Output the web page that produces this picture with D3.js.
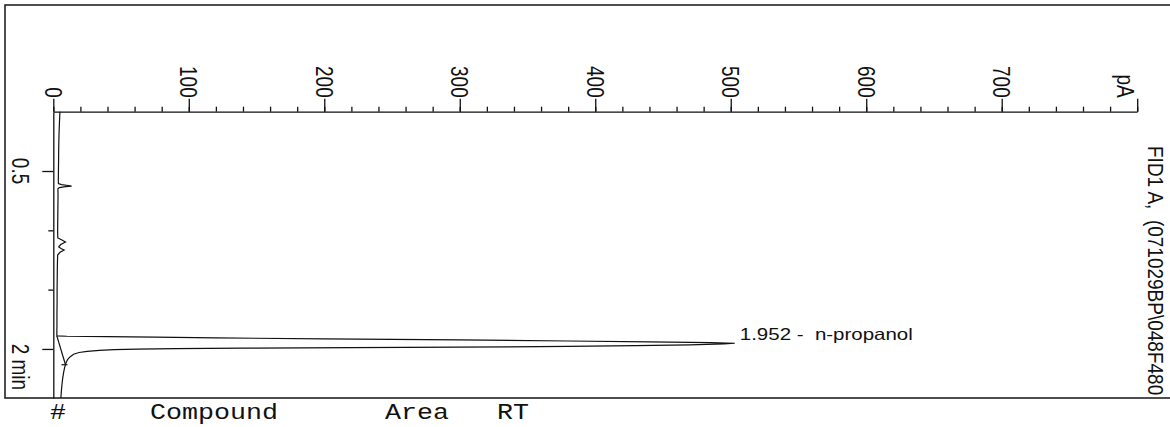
<!DOCTYPE html>
<html>
<head>
<meta charset="utf-8">
<script src="https://cdn.jsdelivr.net/npm/d3@7"></script>
<style>
  body { margin: 0; background: #fff; }
  svg { display: block; }
  .frame { fill: none; stroke: #222; stroke-width: 1.6; }
  .axis path, .axis line { stroke: #111; stroke-width: 1.3; }
  .trace { fill: none; stroke: #111; stroke-width: 1.2; }
  .lbl { font-family: "Liberation Sans", Arial, sans-serif; fill: #111; }
  .mono { font-family: "Liberation Mono", "Courier New", monospace; fill: #111; }
</style>
</head>
<body>
<div id="chart"></div>
<script>
var width = 1170;
var height = 427;

// FID trace: retention time (min) and signal (pA)
var timeMin = [
  0.000, 0.100, 0.200, 0.300, 0.400, 0.500, 0.580, 0.605, 0.615, 0.622,
  0.627, 0.632, 0.640, 0.650, 0.700, 0.800, 0.900, 1.000, 1.064, 1.080,
  1.098, 1.120, 1.140, 1.155, 1.166, 1.185, 1.208, 1.300, 1.400, 1.500,
  1.600, 1.700, 1.800, 1.880, 1.890, 1.893, 1.896, 1.900, 1.907, 1.915,
  1.924, 1.933, 1.941, 1.947, 1.952, 1.958, 1.965, 1.972, 1.979, 1.985,
  1.989, 1.993, 1.997, 2.001, 2.006, 2.012, 2.020, 2.030, 2.045, 2.065,
  2.090, 2.120, 2.160, 2.200, 2.250, 2.300, 2.350, 2.414
];
var signalPA = [
  4.9, 4.5, 4.2, 4.0, 3.9, 3.8, 3.7, 3.8, 6.0, 11.0,
  13.5, 9.0, 4.5, 3.4, 3.5, 3.4, 3.3, 3.2, 3.3, 6.0,
  9.0, 5.5, 4.0, 6.0, 8.0, 5.0, 3.2, 3.0, 2.9, 2.8,
  2.8, 2.7, 2.7, 2.6, 2.7, 10, 40, 75, 120, 200,
  300, 380, 440, 485, 503, 495, 470, 430, 380, 300,
  220, 140, 90, 62, 45, 34, 25, 19, 15, 12.5,
  10.5, 9.3, 8.3, 7.6, 6.9, 6.4, 6.0, 5.6
];

// integration baseline of the n-propanol peak
var baseTime = [1.890, 2.133];
var baseSignal = [2.6, 9.0];

var peakRT = [1.952];
var peakName = ["n-propanol"];
var peakApex = [503];

var pATicks = [0, 100, 200, 300, 400, 500, 600, 700];
var timeMajor = [0.5, 2];
var timeMinor = [1, 1.5];
var timeLabels = ["0.5", "2 min"];
var signalTitle = "FID1 A,  (071029BP\\048F480";
var tableHeader = ["#", "Compound", "Area", "RT"];
var headerX = [50, 150, 385, 497];

var stretch = 1.3;

var svg = d3
  .select("#chart")
  .append("svg")
  .attr("width", width)
  .attr("height", height);

var x = d3.scaleLinear().domain([0, 800]).range([53.3, 1137.2]);
var y = d3.scaleLinear().domain([0, 2.4135]).range([111.7, 398]);

// outer frame
svg.append("rect")
  .attr("class", "frame")
  .attr("x", 5).attr("y", 5)
  .attr("width", width + 10).attr("height", 393);

// signal axis (top)
svg.append("g")
  .attr("class", "axis")
  .attr("transform", "translate(0," + y(0) + ")")
  .call(d3.axisTop(x).tickValues(d3.range(0, 801, 20)).tickSize(5).tickSizeOuter(0).tickFormat(""));

svg.append("g")
  .attr("class", "axis")
  .attr("transform", "translate(0," + y(0) + ")")
  .call(d3.axisTop(x).tickValues(pATicks.concat([800])).tickSize(13).tickSizeOuter(0).tickFormat(""))
  .select(".domain").remove();

svg.selectAll(".pa-label")
  .data(pATicks)
  .enter()
  .append("text")
  .attr("class", "lbl pa-label")
  .attr("transform", function(d) {
    return "translate(" + x(d) + "," + (y(0) - 14) + ") scale(" + stretch + ",1) rotate(90)";
  })
  .attr("text-anchor", "end")
  .attr("dy", "0.35em")
  .style("font-size", "19px")
  .text(function(d) { return d; });

svg.append("text")
  .attr("class", "lbl")
  .attr("transform", "translate(" + (x(800) - 12) + "," + (y(0) - 14) + ") scale(" + stretch + ",1) rotate(90)")
  .attr("text-anchor", "end")
  .attr("dy", "0.35em")
  .style("font-size", "19px")
  .text("pA");

// time axis (left)
svg.append("g")
  .attr("class", "axis")
  .attr("transform", "translate(" + x(0) + ",0)")
  .call(d3.axisLeft(y).tickValues(timeMinor).tickSize(5).tickSizeOuter(0).tickFormat(""));

svg.append("g")
  .attr("class", "axis")
  .attr("transform", "translate(" + x(0) + ",0)")
  .call(d3.axisLeft(y).tickValues(timeMajor).tickSize(11).tickSizeOuter(0).tickFormat(""))
  .select(".domain").remove();

svg.selectAll(".t-label")
  .data(timeMajor)
  .enter()
  .append("text")
  .attr("class", "lbl t-label")
  .attr("transform", function(d) {
    return "translate(" + (x(0) - 33) + "," + y(d) + ") scale(" + stretch + ",1) rotate(90)";
  })
  .attr("text-anchor", function(d, i) { return i === 0 ? "middle" : "start"; })
  .attr("dx", function(d, i) { return i === 0 ? 0 : "-0.28em"; })
  .attr("dy", "0.35em")
  .style("font-size", "19px")
  .text(function(d, i) { return timeLabels[i]; });

// trace
var line = d3.line()
  .x(function(d, i) { return x(signalPA[i]); })
  .y(function(d) { return y(d); });

svg.append("path")
  .datum(timeMin)
  .attr("class", "trace")
  .attr("d", line);

// integration baseline + end marker
svg.append("path")
  .datum(baseTime)
  .attr("class", "trace")
  .attr("d", d3.line()
    .x(function(d, i) { return x(baseSignal[i]); })
    .y(function(d) { return y(d); }));

svg.append("line")
  .attr("class", "trace")
  .attr("x1", x(baseSignal[1]) - 4).attr("x2", x(baseSignal[1]) + 2)
  .attr("y1", y(baseTime[1])).attr("y2", y(baseTime[1]));

// peak label
svg.selectAll(".peak-label")
  .data(peakRT)
  .enter()
  .append("text")
  .attr("class", "lbl peak-label")
  .attr("x", function(d, i) { return x(peakApex[i]) + 5; })
  .attr("y", function(d) { return y(d) - 3; })
  .attr("textLength", 173)
  .attr("lengthAdjust", "spacingAndGlyphs")
  .style("font-size", "16.5px")
  .style("white-space", "pre")
  .text(function(d, i) { return d.toFixed(3) + " -  " + peakName[i]; });

// signal title on the right
svg.append("text")
  .attr("class", "lbl")
  .attr("transform", "translate(1148,146) scale(1.15,1) rotate(90)")
  .style("font-size", "19px")
  .style("white-space", "pre")
  .text(signalTitle);

// table header below the plot
svg.selectAll(".hdr")
  .data(tableHeader)
  .enter()
  .append("text")
  .attr("class", "mono hdr")
  .attr("transform", function(d, i) {
    return "translate(" + headerX[i] + ",419) scale(1.24,1)";
  })
  .style("font-size", "21.5px")
  .text(function(d) { return d; });
</script>
</body>
</html>
